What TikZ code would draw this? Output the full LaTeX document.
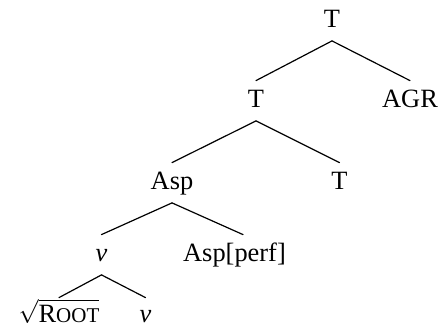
\documentclass[tikz,border=0pt]{standalone}
\usepackage{fontspec}
\setmainfont{Liberation Serif}
% small capitals built by hand: Liberation Serif has no smcp feature
\newcommand\fakesc[2]{#1{\fontsize{10.5}{12}\selectfont #2}}
\begin{document}
\begin{tikzpicture}[x=0.5pt,y=-0.5pt,
  lbl/.style={inner sep=0pt, anchor=base, text height=13pt, text depth=6.75pt,
              font=\fontsize{13.2}{16}\selectfont},
  branch/.style={line width=0.6pt, line cap=round}]
\useasboundingbox (0,0) rectangle (441,327);

% labels, placed on their baselines
\node[lbl] (tTop)  at (332,27)   {T};
\node[lbl] (tMid)  at (256,107)  {T};
\node[lbl] (agr)   at (410,107)  {AGR};
\node[lbl] (asp)   at (172,189)  {Asp};
\node[lbl] (tLow)  at (339.5,189) {T};
\node[lbl] (vMid)  at (101.5,261) {\textit{v}};
\node[lbl] (perf)  at (234.5,261) {Asp[perf]};
\node[lbl] (root)  at (59,322)   {$\sqrt{\rule[-0.5pt]{0pt}{10pt}\mbox{\fakesc{R}{OOT}}}$};
\node[lbl] (vLow)  at (145.5,322) {\textit{v}};

% branches
\draw[branch] (tTop.south) -- (tMid.north);
\draw[branch] (tTop.south) -- (agr.north);
\draw[branch] (tMid.south) -- (asp.north);
\draw[branch] (tMid.south) -- (tLow.north);
\draw[branch] (asp.south)  -- (vMid.north);
\draw[branch] (asp.south)  -- ([xshift=4.25pt]perf.north);
\draw[branch] (vMid.south) -- ([yshift=-1pt]root.north);
\draw[branch] (vMid.south) -- ([yshift=-1pt]vLow.north);
\end{tikzpicture}
\end{document}
